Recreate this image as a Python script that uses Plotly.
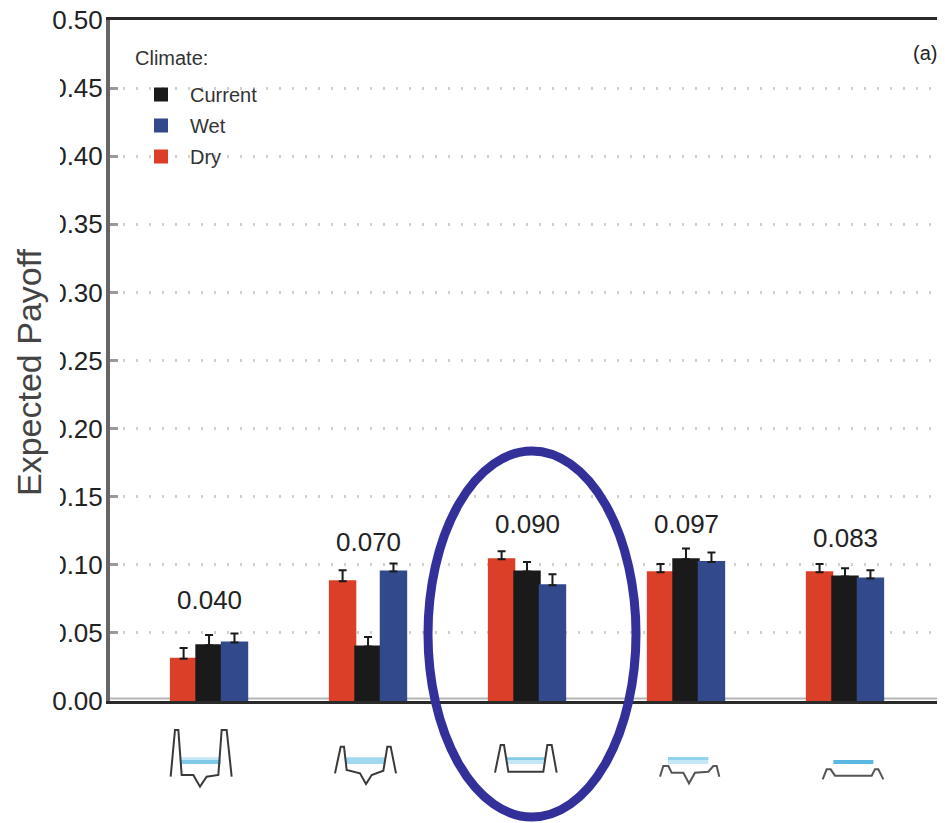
import plotly.graph_objects as go

# ---- data ----
sites = [0, 1, 2, 3, 4]
dry = [0.031, 0.088, 0.104, 0.0945, 0.0945]
current = [0.041, 0.040, 0.095, 0.104, 0.0915]
wet = [0.043, 0.095, 0.085, 0.102, 0.090]
dry_err = [0.008, 0.008, 0.006, 0.006, 0.006]
current_err = [0.0075, 0.007, 0.007, 0.008, 0.006]
wet_err = [0.0065, 0.006, 0.008, 0.007, 0.006]
payoff_labels = ["0.040", "0.070", "0.090", "0.097", "0.083"]
payoff_label_y = [0.074, 0.1165, 0.130, 0.130, 0.120]
y_ticks = [0.0, 0.05, 0.10, 0.15, 0.20, 0.25, 0.30, 0.35, 0.40, 0.45, 0.50]
y_tick_text = ["0.00", "0.05", "0.10", "0.15", "0.20", "0.25", "0.30", "0.35", "0.40", "0.45", "0.50"]

# ---- layout constants (image coordinates; the page body has an 8px margin) ----
PAGE = 8
W, H = 945, 823
L, R, T, B = 110, 945, 20, 701
FONT = "Liberation Sans"
RED, BLACK, BLUE = "#dc3f28", "#1a1a1a", "#324a8c"


def px(x):
    return (x - L) / (R - L)


def py(y):
    return (B - y) / (B - T)


def polyline(points, color="#3a3a3a", width=2):
    path = "M" + " L".join(f"{px(a):.5f},{py(b):.5f}" for a, b in points)
    return dict(type="path", xref="paper", yref="paper", path=path,
                line=dict(color=color, width=width), layer="above")


def box(x0, y0, x1, y1, fill):
    return dict(type="rect", xref="paper", yref="paper", x0=px(x0), x1=px(x1),
                y0=py(y1), y1=py(y0), fillcolor=fill, line=dict(width=0), layer="above")


def crop(points, ox, oy):
    return [(ox + a / 3, oy + b / 3) for a, b in points]


shapes = [
    # hides the left of the tick labels, as the source image is cropped there
    box(0, 42, 60, 682, "white"),
    # grey band lying on the axis line, behind the bars
    dict(type="line", xref="paper", yref="paper", x0=0, x1=1, y0=py(698.5), y1=py(698.5),
         line=dict(color="#b5b5b5", width=2), layer="below"),
]

# water surfaces below the axis
for x0, y0, x1, y1, c in [
    (152, 232, 272, 240, "#c5e8f6"), (152, 240, 272, 252, "#7fc8e8"),
    (648, 232, 765, 252, "#a0d8ef"),
    (1128, 232, 1245, 240, "#84cbe8"), (1128, 240, 1245, 252, "#c5e8f6"),
]:
    shapes.append(box(130 + x0 / 3, 680 + y0 / 3, 130 + x1 / 3, 680 + y1 / 3, c))
for x0, y0, x1, y1, c in [
    (204, 771, 325, 780, "#93d2ec"), (204, 780, 325, 792, "#c5e8f6"),
    (700, 780, 820, 792, "#5bb8e2"),
]:
    shapes.append(box(600 + x0 / 3, 500 + y0 / 3, 600 + x1 / 3, 500 + y1 / 3, c))

# channel cross-section icons
icon_a = [(122, 290), (135, 150), (145, 150), (155, 285), (190, 285), (210, 320),
          (230, 290), (265, 285), (275, 150), (290, 150), (305, 290)]
icon_b = [(615, 280), (632, 200), (642, 200), (650, 270), (690, 280), (708, 312),
          (725, 285), (760, 272), (772, 200), (782, 200), (798, 280)]
icon_c = [(1095, 278), (1112, 195), (1122, 195), (1135, 275), (1240, 275),
          (1252, 195), (1265, 195), (1280, 278)]
icon_d = [(180, 830), (190, 798), (205, 798), (215, 818), (250, 818), (267, 850),
          (285, 818), (325, 815), (340, 798), (350, 798), (358, 830)]
icon_e = [(668, 838), (680, 808), (692, 808), (705, 827), (815, 827), (825, 808),
          (835, 808), (850, 838)]
for pts in (icon_a, icon_b, icon_c):
    shapes.append(polyline(crop(pts, 130, 680)))
for pts in (icon_d, icon_e):
    shapes.append(polyline(crop(pts, 600, 500), color="#555555"))

# highlight ellipse
shapes.append(dict(type="circle", xref="paper", yref="paper",
                   x0=px(428), x1=px(636), y0=py(817), y1=py(451),
                   line=dict(color="#33309a", width=9), layer="above"))

fig = go.Figure()
for name, vals, errs, col, rank in [
    ("Dry", dry, dry_err, RED, 3),
    ("Current", current, current_err, BLACK, 1),
    ("Wet", wet, wet_err, BLUE, 2),
]:
    fig.add_bar(
        x=sites, y=vals, name=name, legendrank=rank, legendgroup=name,
        marker=dict(color=col, line=dict(color=col, width=2)),
        error_y=dict(type="data", array=errs, arrayminus=[0] * len(errs), symmetric=False,
                     color="#1a1a1a", thickness=2, width=4),
    )

annotations = [
    dict(x=s, y=v, text=t, xref="x", yref="y", showarrow=False,
         font=dict(family=FONT, size=26, color="#222222"))
    for s, v, t in zip(sites, payoff_label_y, payoff_labels)
]
annotations += [
    dict(xref="paper", yref="paper", x=px(925), y=py(53), text="(a)", showarrow=False,
         xanchor="center", yanchor="middle", font=dict(family=FONT, size=20, color="#222222")),
    dict(xref="paper", yref="paper", x=px(134), y=py(58), text="Climate:", showarrow=False,
         xanchor="left", yanchor="middle", xshift=-1, font=dict(family=FONT, size=20, color="#333333")),
    dict(xref="paper", yref="paper", x=px(29), y=py(372), text="Expected Payoff", showarrow=False,
         textangle=-90, xanchor="center", yanchor="middle",
         font=dict(family=FONT, size=34, color="#444444")),
]

fig.update_layout(
    width=W - PAGE, height=H - PAGE, autosize=False,
    margin=dict(l=L - PAGE, r=W - R, t=T - PAGE, b=H - B, pad=0),
    paper_bgcolor="white", plot_bgcolor="white",
    barmode="group", bargap=0.52, bargroupgap=0,
    shapes=shapes, annotations=annotations,
    showlegend=True,
    legend=dict(
        x=px(132), y=py(75), xanchor="left", yanchor="top",
        bgcolor="rgba(0,0,0,0)", traceorder="grouped", tracegroupgap=2,
        itemwidth=48, itemclick=False,
        font=dict(family=FONT, size=20, color="#333333"),
    ),
    xaxis=dict(
        automargin=False,
        range=[-0.623, 4.629], showticklabels=False, ticks="", showgrid=False, zeroline=False,
        showline=True, linecolor="#2a2a2a", linewidth=3, mirror=True, tickvals=sites,
    ),
    yaxis=dict(
        automargin=False,
        range=[0, 0.5], tickvals=y_ticks, ticktext=y_tick_text, ticklabeloverflow="allow",
        ticks="inside", ticklen=8, tickwidth=3, tickcolor="#9a9a9a", ticklabelstandoff=-2,
        tickfont=dict(family=FONT, size=26, color="#222222"),
        showgrid=True, gridcolor="#cfcfcf", gridwidth=3, griddash="2px,11px", zeroline=False,
        showline=True, linecolor="#666666", linewidth=4,
    ),
)
fig.write_html("out.html")
